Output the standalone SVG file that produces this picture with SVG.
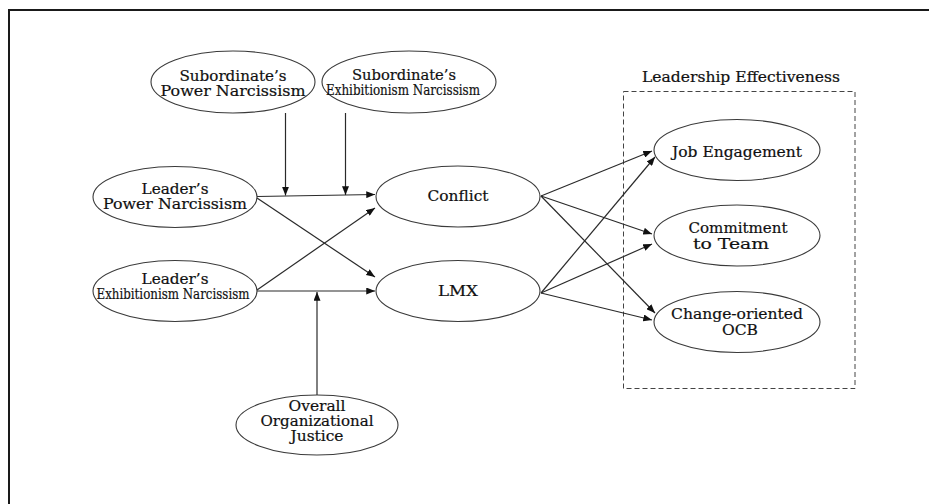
<svg xmlns="http://www.w3.org/2000/svg" width="929" height="504" viewBox="0 0 929 504">
<style>
.frame{fill:none;stroke:#1a1a1a;stroke-width:2}
.node ellipse{fill:#fff;stroke:#3a3a3a;stroke-width:1.1}
.t{font-family:"DejaVu Serif","Liberation Serif",serif;font-size:14.5px;fill:#111;stroke:#111;stroke-width:0.2;text-anchor:middle}
.edge{fill:none;stroke:#2a2a2a;stroke-width:1.2;marker-end:url(#ah)}
.group{fill:none;stroke:#444;stroke-width:1;stroke-dasharray:5 3}
</style>
<defs>
<marker id="ah" viewBox="0 0 10 8" refX="10" refY="4" markerWidth="9" markerHeight="7" markerUnits="userSpaceOnUse" orient="auto">
<path d="M0,0 L10,4 L0,8 z" fill="#111"/>
</marker>
</defs>
<rect width="929" height="504" fill="#fff"/>
<rect class="frame" x="9" y="10" width="940" height="520"/>

<g id="group-leadership-effectiveness">
<rect class="group" x="623.5" y="91.5" width="231.5" height="297"/>
<text class="t" x="741" y="82" textLength="198" lengthAdjust="spacingAndGlyphs">Leadership Effectiveness</text>
</g>

<g id="connectors">
<line class="edge" x1="257" y1="196.5" x2="375" y2="194.5"/>
<line class="edge" x1="257" y1="198" x2="375" y2="277"/>
<line class="edge" x1="257" y1="290" x2="375" y2="208"/>
<line class="edge" x1="257" y1="291" x2="375" y2="291"/>
<line class="edge" x1="285.5" y1="113" x2="285.5" y2="195.5"/>
<line class="edge" x1="345.5" y1="113" x2="345.5" y2="195"/>
<line class="edge" x1="317" y1="395" x2="317" y2="292"/>
<line class="edge" x1="541" y1="196" x2="652" y2="151"/>
<line class="edge" x1="541" y1="196" x2="652" y2="234"/>
<line class="edge" x1="541" y1="196" x2="655" y2="313"/>
<line class="edge" x1="541" y1="293" x2="655" y2="157"/>
<line class="edge" x1="541" y1="293" x2="652" y2="244"/>
<line class="edge" x1="541" y1="293" x2="652" y2="320"/>
</g>

<g id="sub-power" class="node">
<ellipse cx="233" cy="82" rx="82" ry="31"/>
<text class="t" x="233" y="81" textLength="107" lengthAdjust="spacingAndGlyphs">Subordinate’s</text>
<text class="t" x="233" y="96" textLength="145" lengthAdjust="spacingAndGlyphs">Power Narcissism</text>
</g>
<g id="sub-exhibitionism" class="node">
<ellipse cx="409" cy="82" rx="87" ry="31"/>
<text class="t" x="404" y="80" textLength="104" lengthAdjust="spacingAndGlyphs">Subordinate’s</text>
<text class="t" x="403" y="95" textLength="154" lengthAdjust="spacingAndGlyphs">Exhibitionism Narcissism</text>
</g>
<g id="leader-power" class="node">
<ellipse cx="175" cy="197" rx="82" ry="30.5"/>
<text class="t" x="175" y="194" textLength="67" lengthAdjust="spacingAndGlyphs">Leader’s</text>
<text class="t" x="175" y="209" textLength="144" lengthAdjust="spacingAndGlyphs">Power Narcissism</text>
</g>
<g id="leader-exhibitionism" class="node">
<ellipse cx="175" cy="291" rx="82" ry="30.5"/>
<text class="t" x="175" y="284" textLength="67" lengthAdjust="spacingAndGlyphs">Leader’s</text>
<text class="t" x="173" y="299" textLength="153" lengthAdjust="spacingAndGlyphs">Exhibitionism Narcissism</text>
</g>
<g id="conflict" class="node">
<ellipse cx="458" cy="196.5" rx="82" ry="30.5"/>
<text class="t" x="458" y="201" textLength="61" lengthAdjust="spacingAndGlyphs">Conflict</text>
</g>
<g id="lmx" class="node">
<ellipse cx="458" cy="291" rx="82" ry="30.5"/>
<text class="t" x="458" y="296" textLength="40" lengthAdjust="spacingAndGlyphs">LMX</text>
</g>
<g id="justice" class="node">
<ellipse cx="317" cy="425" rx="81" ry="30"/>
<text class="t" x="317" y="411" textLength="57" lengthAdjust="spacingAndGlyphs">Overall</text>
<text class="t" x="317" y="426" textLength="113" lengthAdjust="spacingAndGlyphs">Organizational</text>
<text class="t" x="317" y="441" textLength="53" lengthAdjust="spacingAndGlyphs">Justice</text>
</g>
<g id="job-engagement" class="node">
<ellipse cx="737" cy="150" rx="83" ry="30.5"/>
<text class="t" x="737" y="157" textLength="130" lengthAdjust="spacingAndGlyphs">Job Engagement</text>
</g>
<g id="commitment" class="node">
<ellipse cx="737" cy="235.5" rx="83" ry="30.5"/>
<text class="t" x="738" y="233" textLength="99" lengthAdjust="spacingAndGlyphs">Commitment</text>
<text class="t" x="731" y="249" textLength="76" lengthAdjust="spacingAndGlyphs">to Team</text>
</g>
<g id="change-ocb" class="node">
<ellipse cx="737" cy="322" rx="83" ry="30.5"/>
<text class="t" x="737" y="319" textLength="132" lengthAdjust="spacingAndGlyphs">Change-oriented</text>
<text class="t" x="740" y="335" textLength="36" lengthAdjust="spacingAndGlyphs">OCB</text>
</g>
</svg>
